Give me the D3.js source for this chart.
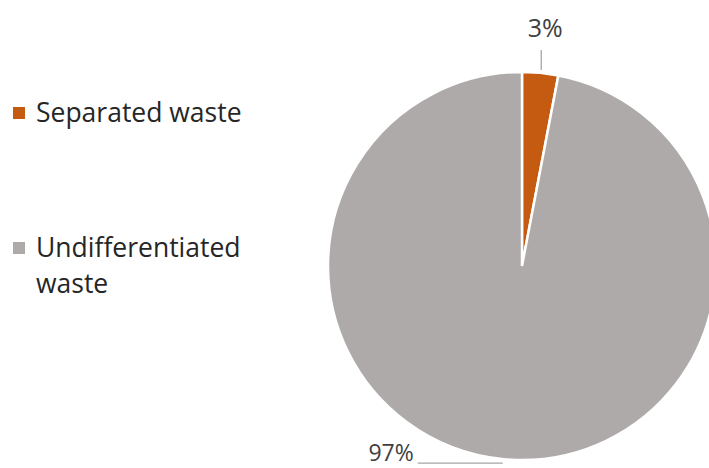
<!DOCTYPE html>
<html>
<head>
<meta charset="utf-8">
<script src="https://cdn.jsdelivr.net/npm/d3@7"></script>
<style>
body{margin:0;background:#fff;}
svg text{font-family:"Open Sans",sans-serif;}
</style>
</head>
<body>
<svg id="svg" width="709" height="468"></svg>
<script>
var categories=["Separated waste","Undifferentiated waste"];
var values=[3,97];
var labels=["3%","97%"];
var colors=["#C55A11","#AEAAAA"];

var svg=d3.select("#svg");
var cx=522,cy=266,r=194;

var pie=d3.pie().sort(null).value(d=>d)
var arcs=pie(values)
var arc=d3.arc().innerRadius(0).outerRadius(r)

var g=svg.append("g").attr("transform","translate("+cx+","+cy+")")
g.selectAll("path")
    .data(arcs)
    .enter().append("path")
        .attr("d",arc)
        .attr("fill",(d,i)=>colors[i])
        .attr("stroke","#fff")
        .attr("stroke-width",2.5)

// leader line + label for the small slice
var a0=arcs[0]
var mid0=(a0.startAngle+a0.endAngle)/2
var x0=Math.sin(mid0)*r+1
g.append("line")
    .attr("x1",x0).attr("x2",x0)
    .attr("y1",-r-2).attr("y2",-r-22)
    .attr("stroke","#a6a6a6").attr("stroke-width",1.3)
g.append("text")
    .attr("x",x0+4).attr("y",-r-35)
    .attr("text-anchor","middle")
    .attr("font-size",25).attr("fill","#404040")
    .text(labels[0])

// leader line + label for the big slice (kept inside the bottom edge)
var a1=arcs[1]
var mid1=(a1.startAngle+a1.endAngle)/2
var x1=Math.sin(mid1)*r, y1=-Math.cos(mid1)*r
g.append("line")
    .attr("x1",x1-1).attr("x2",x1-86)
    .attr("y1",y1+4).attr("y2",y1+4)
    .attr("stroke","#a6a6a6").attr("stroke-width",1.3)
g.append("text")
    .attr("x",x1-90).attr("y",y1+2)
    .attr("text-anchor","end")
    .attr("font-size",23).attr("fill","#404040")
    .text(labels[1])

// legend
var legend=svg.append("g")
var legendY=[122,257]
categories.forEach((c,i)=>{
    legend.append("rect")
        .attr("x",13).attr("y",legendY[i]-15)
        .attr("width",12).attr("height",12)
        .attr("fill",colors[i])
    var t=legend.append("text")
        .attr("x",36).attr("y",legendY[i])
        .attr("font-size",26.5).attr("fill","#262626")
    var words=i==1?["Undifferentiated","waste"]:[c]
    words.forEach((w,j)=>{
        t.append("tspan").attr("x",36).attr("dy",j==0?0:36).text(w)
    })
})
</script>
</body>
</html>
